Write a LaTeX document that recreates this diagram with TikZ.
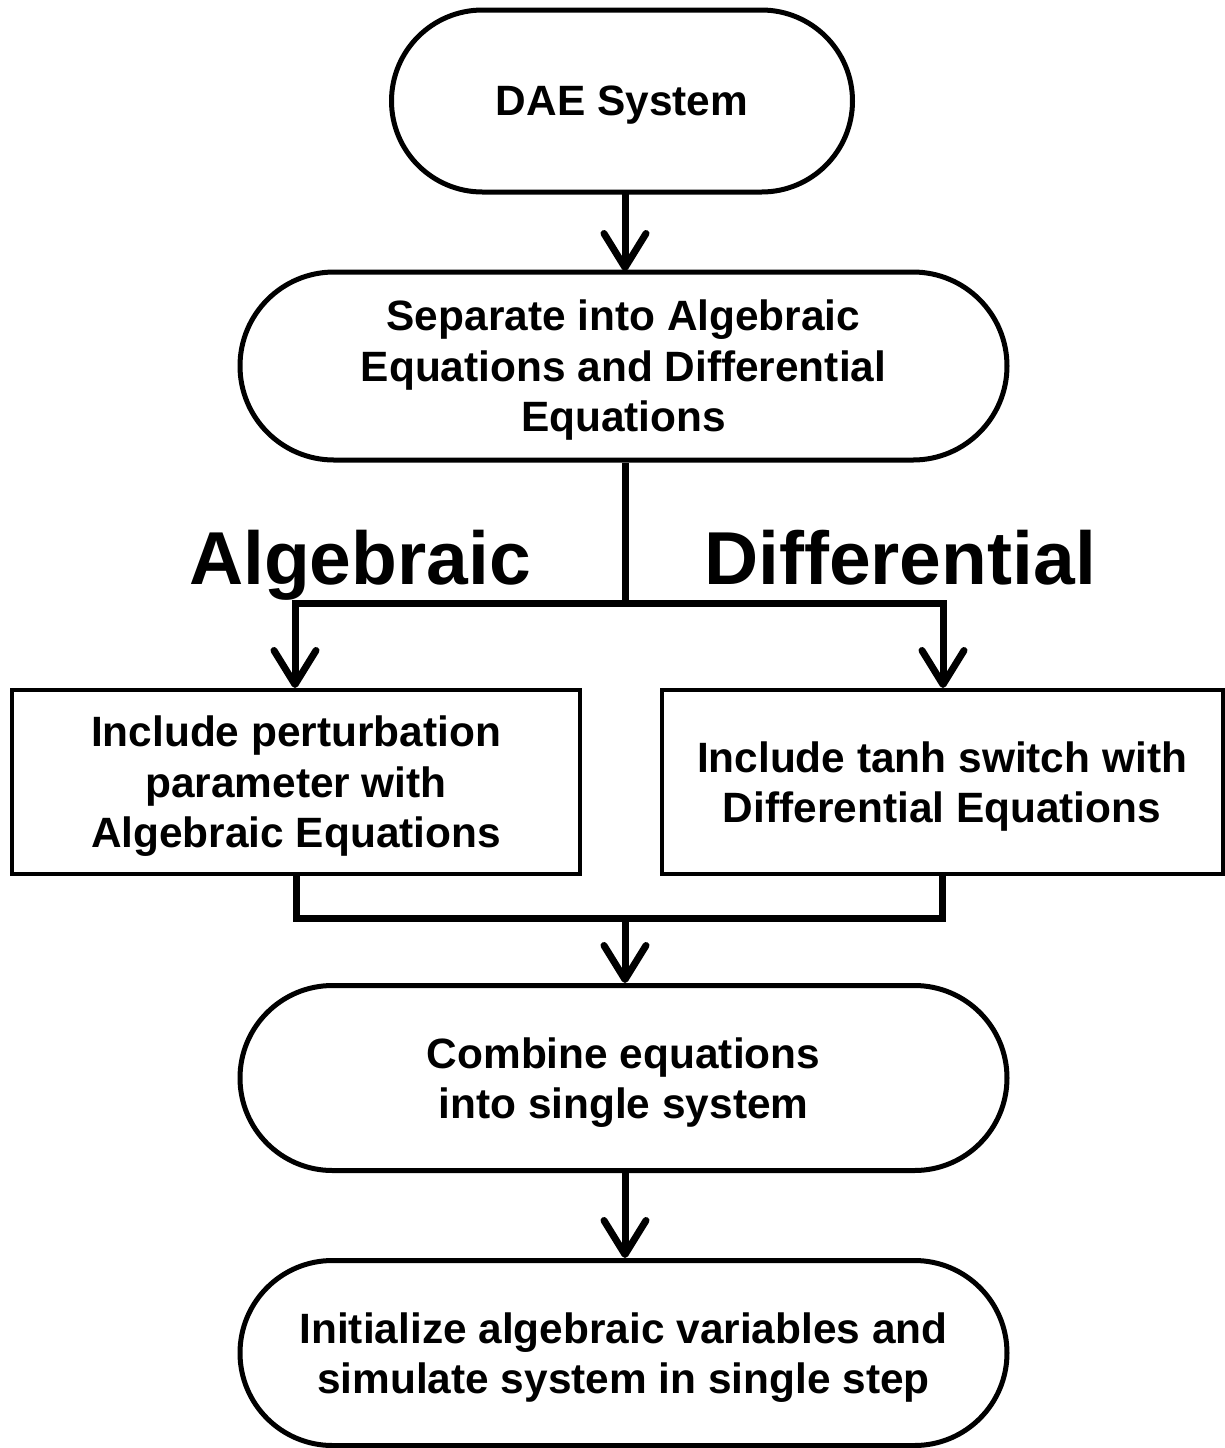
\documentclass[tikz,border=0pt]{standalone}
\usepackage{fontspec}
\setmainfont{Liberation Sans}
\usetikzlibrary{arrows.meta,shapes.misc}
\begin{document}
\begin{tikzpicture}[x=0.5pt,y=-0.5pt,
  txt/.style={font=\fontsize{21.2}{25.2}\selectfont\bfseries,align=center,inner sep=0pt,text depth=0pt},
  stadium/.style={txt,draw,rounded rectangle,line width=2.5pt},
  boxr/.style={txt,draw,rectangle,line width=2pt},
  conn/.style={line width=3.5pt},
  arr/.style={conn,-{Straight Barb[length=17pt,width=21pt,line cap=round,line join=round]}},
  big/.style={font=\fontsize{37.5}{40}\selectfont\bfseries,inner sep=0pt,anchor=base}]
\useasboundingbox (0,0) rectangle (1225,1448);
\node[stadium,minimum width=230.5pt,minimum height=91pt] (dae) at (622,101) {DAE System};
\node[stadium,minimum width=383.5pt,minimum height=94pt] (sep) at (623.5,366) {Separate into Algebraic\\Equations and Differential\\Equations};
\node[boxr,minimum width=284pt,minimum height=92pt] (alg) at (296,782) {Include perturbation\\parameter with\\Algebraic Equations};
\node[boxr,minimum width=280.5pt,minimum height=92pt] (dif) at (942,782) {Include tanh switch with\\Differential Equations};
\node[stadium,minimum width=383.5pt,minimum height=92.5pt] (comb) at (623.5,1078) {Combine equations\\into single system};
\node[stadium,minimum width=383.5pt,minimum height=92.5pt] (init) at (623.5,1353) {Initialize algebraic variables and\\simulate system in single step};
\node[big] (lalg) at (360,584) {Algebraic};
\node[big] (ldif) at (900,584) {Differential};
\coordinate (j) at (625,603);
\coordinate (jl) at (295,603);
\coordinate (jr) at (943,603);
\coordinate (ml) at (296,918);
\coordinate (mr) at (942,918);
\coordinate (m) at (625,918);
\draw[arr] (625,192) -- (625,271);
\draw[conn] (sep.south -| j) -- (j);
\draw[conn,line cap=rect] (jl) -- (jr);
\draw[arr] (jl) -- (alg.north -| jl);
\draw[arr] (jr) -- (dif.north -| jr);
\draw[conn] (alg.south) -- (ml);
\draw[conn] (dif.south) -- (mr);
\draw[conn,line cap=rect] (ml) -- (mr);
\draw[arr] (m) -- (comb.north -| m);
\draw[arr] (comb.south -| m) -- (init.north -| m);
\end{tikzpicture}
\end{document}
